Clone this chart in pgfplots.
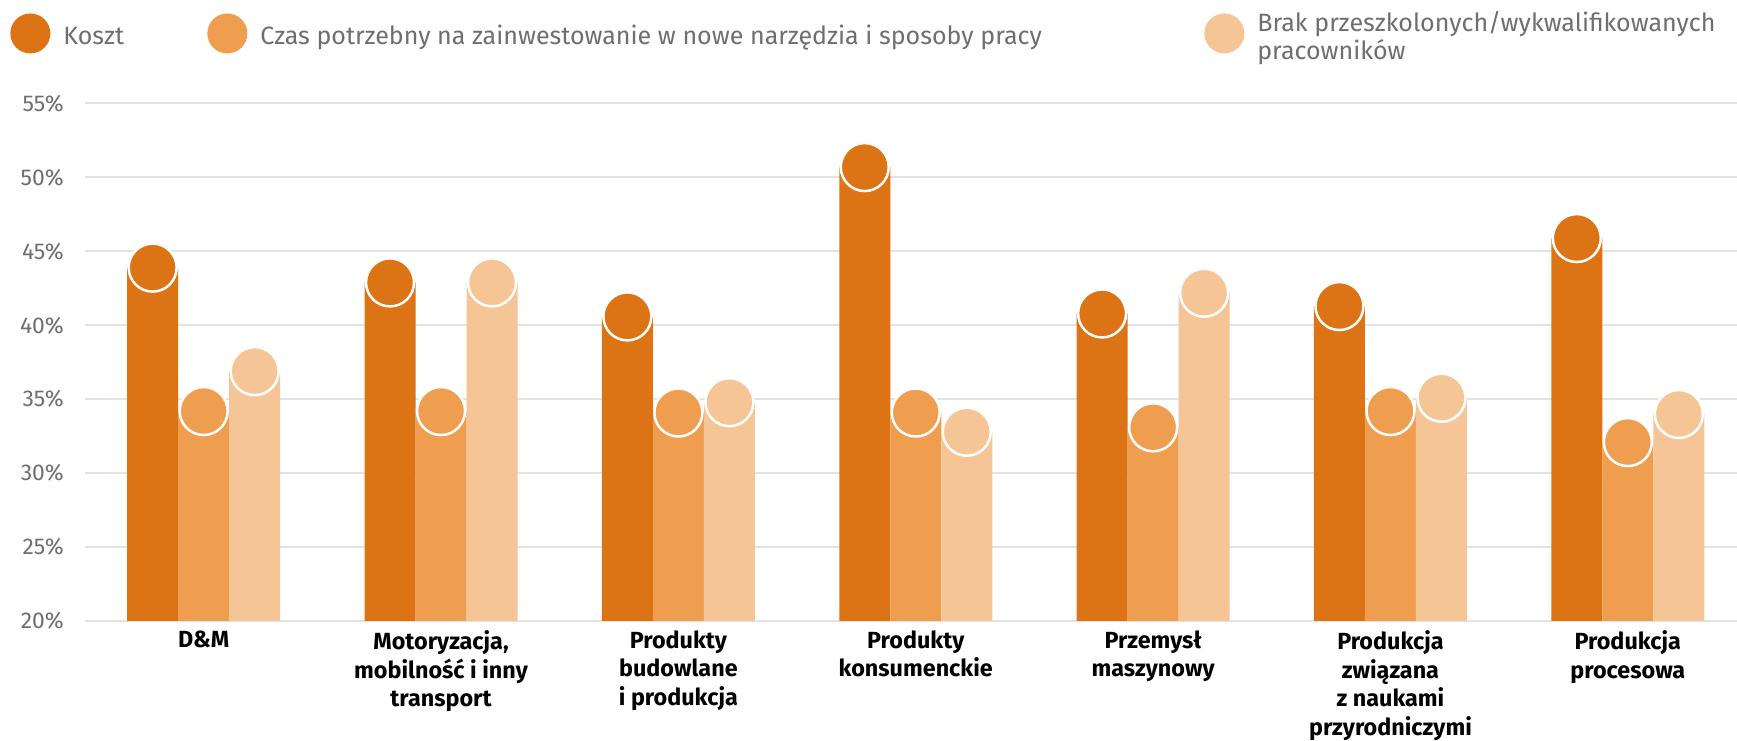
\documentclass[border=0pt]{standalone}
\usepackage{fontspec}
\setmainfont{Fira Sans}
\usepackage{pgfplots}
\usepackage{pgfplotstable}
\pgfplotsset{compat=1.18}
\definecolor{cA}{HTML}{DC7314}
\definecolor{cB}{HTML}{EF9E50}
\definecolor{cC}{HTML}{F5C596}
\definecolor{gridc}{HTML}{E3E3E3}
\definecolor{tickc}{HTML}{6E6E6E}

\pgfplotstableread{
x a b c
0 43.9 34.2 36.9
1 42.9 34.2 42.9
2 40.6 34.1 34.8
3 50.7 34.1 32.8
4 40.8 33.1 42.2
5 41.3 34.2 35.1
6 45.9 32.1 34.0
}\data

\pgfplotsset{circleleg/.style={legend image code/.code={%
  \path[fill=none, draw=none] (0mm,-4.2mm) rectangle (10.6mm,4.2mm);
  \fill (4mm,0.9mm) circle (4mm);}}}

\begin{document}
\begin{tikzpicture}
\begin{axis}[
  at={(0,0)}, anchor=south west,
  scale only axis, width=330.4mm, height=103.5mm,
  xmin=-0.5, xmax=6.46, ymin=20, ymax=55,
  ytick={20,25,...,55},
  xtick={0,...,6},
  xticklabels={D\&M,{Motoryzacja,\\mobilność i inny\\transport},{Produkty\\budowlane\\i produkcja},{Produkty\\konsumenckie},{Przemysł\\maszynowy},{Produkcja\\związana\\z naukami\\przyrodniczymi},{Produkcja\\procesowa}},
  axis lines*=left, axis line style={draw=none},
  major tick length=0pt,
  ymajorgrids, grid style={gridc, line width=0.4mm},
  /pgf/number format/assume math mode=true,
  yticklabel={\pgfmathprintnumber{\tick}\%},
  yticklabel style={font=\fontsize{13}{15}\selectfont, text=tickc, xshift=-3mm},
  xticklabel style={font=\fontsize{13.3}{16.2}\selectfont\bfseries, align=center, text=black, yshift=-0.7mm},
  legend style={at={(axis description cs:-0.0454,1.130)}, anchor=west, draw=none, fill=none, inner sep=0pt,
    font=\fontsize{14.25}{16.4}\selectfont, text=tickc,
    nodes={inner sep=0pt, text height=3.6mm, text depth=1mm},
    /tikz/every odd column/.style={column sep=0pt},
    /tikz/every even column/.style={column sep=0pt}},
  legend columns=3, legend cell align=left,
]
\addplot[ybar, bar width=10.2mm, bar shift=-10.2mm, fill=cA, draw=none, circleleg] table[x=x,y=a]{\data};
\addlegendentry{\makebox[28.8mm][l]{Koszt}}
\addplot[ybar, bar width=10.2mm, bar shift=0mm, fill=cB, draw=none, circleleg] table[x=x,y=b]{\data};
\addlegendentry{\makebox[188.8mm][l]{Czas potrzebny na zainwestowanie w nowe narzędzia i sposoby pracy}}
\addplot[ybar, bar width=10.2mm, bar shift=10.2mm, fill=cC, draw=none, circleleg] table[x=x,y=c]{\data};
\addlegendentry{\parbox[c]{95mm}{Brak przeszkolonych/wykwalifikowanych\\pracowników}}

\addplot[only marks, mark=*, mark size=4.8mm, mark options={fill=cA, draw=white, line width=0.5mm}, forget plot] table[x expr=\thisrow{x}-0.2149, y=a]{\data};
\addplot[only marks, mark=*, mark size=4.8mm, mark options={fill=cB, draw=white, line width=0.5mm}, forget plot] table[x=x, y=b]{\data};
\addplot[only marks, mark=*, mark size=4.8mm, mark options={fill=cC, draw=white, line width=0.5mm}, forget plot] table[x expr=\thisrow{x}+0.2149, y=c]{\data};
\end{axis}
\pgfresetboundingbox
\path[use as bounding box] (-17mm,-24mm) rectangle (330.4mm,124.2mm);
\end{tikzpicture}
\end{document}
